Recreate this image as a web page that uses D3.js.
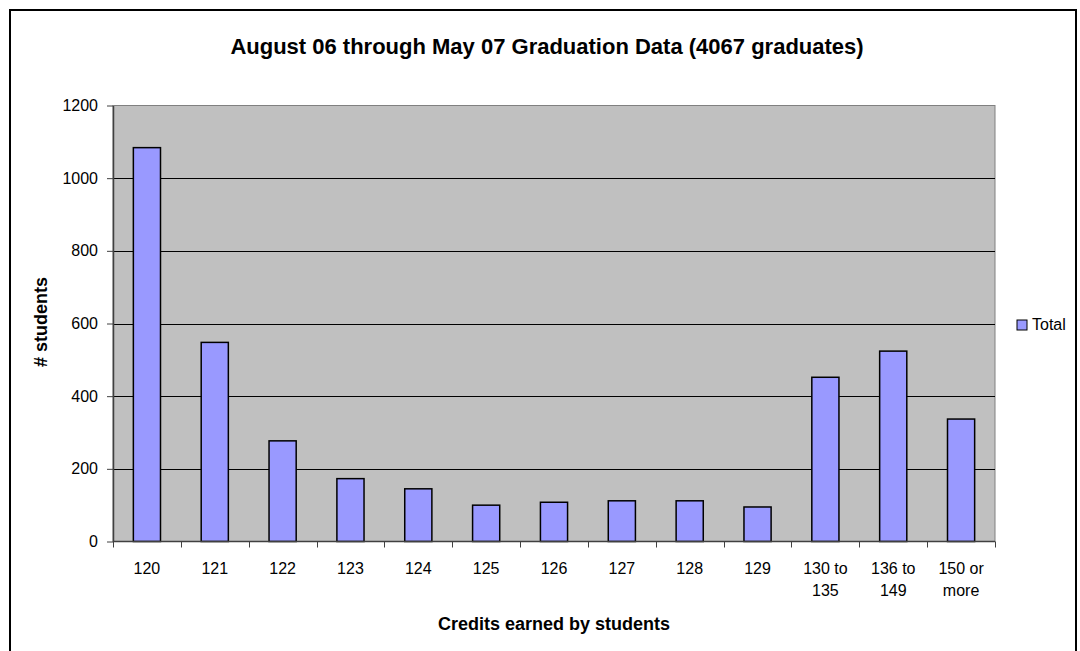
<!DOCTYPE html>
<html>
<head>
<meta charset="utf-8">
<script src="https://cdn.jsdelivr.net/npm/d3@7"></script>
<style>
  body { margin: 0; background: #fff; }
  svg { display: block; font-family: "Liberation Sans", Arial, sans-serif; }
</style>
</head>
<body>
<svg id="vis"></svg>
<script>
const categories = ["120", "121", "122", "123", "124", "125", "126", "127", "128", "129", "130 to 135", "136 to 149", "150 or more"];
const totals = [1084, 548, 277, 173, 145, 100, 108, 112, 112, 95, 452, 524, 337];
const yTicks = [0, 200, 400, 600, 800, 1000, 1200];
const seriesName = "Total";

const width = 1080, height = 651;
const plot = { left: 113, right: 995, top: 105.5, bottom: 541.5 };

const svg = d3.select("#vis")
  .attr("width", width)
  .attr("height", height);

// outer chart border
svg.append("rect")
  .attr("x", 10).attr("y", 10)
  .attr("width", 1066).attr("height", 660)
  .attr("fill", "#fff")
  .attr("stroke", "#000")
  .attr("stroke-width", 2);

const x = d3.scaleBand()
  .domain(categories)
  .range([plot.left, plot.right])
  .paddingInner(0.6)
  .paddingOuter(0.3);

const y = d3.scaleLinear()
  .domain([0, 1200])
  .range([plot.bottom, plot.top]);

// plot area
svg.append("rect")
  .attr("x", plot.left).attr("y", plot.top)
  .attr("width", plot.right - plot.left)
  .attr("height", plot.bottom - plot.top)
  .attr("fill", "#c0c0c0")
  .attr("stroke", "#808080")
  .attr("stroke-width", 1);

// gridlines
svg.append("g")
  .selectAll("line")
  .data(yTicks.filter(d => d > 0 && d < 1200))
  .enter()
  .append("line")
  .attr("x1", plot.left).attr("x2", plot.right)
  .attr("y1", d => Math.round(y(d)) + 0.5)
  .attr("y2", d => Math.round(y(d)) + 0.5)
  .attr("stroke", "#000")
  .attr("stroke-width", 1);

// bars
svg.append("g")
  .selectAll("rect")
  .data(categories.map((c, i) => ({ cat: c, value: totals[i] })))
  .enter()
  .append("rect")
  .attr("x", d => x(d.cat))
  .attr("y", d => y(d.value))
  .attr("width", x.bandwidth())
  .attr("height", d => y(0) - y(d.value))
  .attr("fill", "#9999ff")
  .attr("stroke", "#000")
  .attr("stroke-width", 1.5);

// y axis
const yAxis = svg.append("g")
  .attr("transform", `translate(${plot.left},0)`)
  .call(d3.axisLeft(y).tickValues(yTicks).tickFormat(d3.format("d"))
    .tickSize(6).tickSizeOuter(0).tickPadding(9));
yAxis.select(".domain").attr("stroke", "#404040").attr("stroke-width", 1.5);
yAxis.selectAll(".tick line").attr("stroke", "#404040");
yAxis.selectAll("text")
  .attr("font-size", 16)
  .attr("fill", "#000")
  .attr("font-family", "Liberation Sans, Arial, sans-serif");

// x axis: ticks at category boundaries
const step = x.step();
const bounds = categories.map(c => x(c) - step * x.paddingOuter()).concat([plot.right]);
const xAxis = svg.append("g");
xAxis.append("line")
  .attr("x1", plot.left).attr("x2", plot.right)
  .attr("y1", plot.bottom).attr("y2", plot.bottom)
  .attr("stroke", "#404040").attr("stroke-width", 1.5);
xAxis.selectAll("line.tk")
  .data(bounds)
  .enter()
  .append("line")
  .attr("class", "tk")
  .attr("x1", d => Math.round(d) + 0.5).attr("x2", d => Math.round(d) + 0.5)
  .attr("y1", plot.bottom).attr("y2", plot.bottom + 6)
  .attr("stroke", "#404040");

// x labels (wrapped in two lines when needed)
const labelGroups = xAxis.selectAll("text.lbl")
  .data(categories)
  .enter()
  .append("text")
  .attr("class", "lbl")
  .attr("text-anchor", "middle")
  .attr("font-size", 16)
  .attr("fill", "#000");
labelGroups.each(function(c) {
  const words = c.split(" ");
  const lines = words.length > 2 ? [words.slice(0, 2).join(" "), words.slice(2).join(" ")] : [c];
  const t = d3.select(this);
  lines.forEach((ln, i) => {
    t.append("tspan")
      .attr("x", x(c) + x.bandwidth() / 2)
      .attr("y", 574 + i * 22)
      .text(ln);
  });
});

// titles
svg.append("text")
  .attr("x", 547).attr("y", 54)
  .attr("text-anchor", "middle")
  .attr("font-size", 22)
  .attr("font-weight", "bold")
  .text("August 06 through May 07 Graduation Data (4067 graduates)");

svg.append("text")
  .attr("x", 554).attr("y", 630)
  .attr("text-anchor", "middle")
  .attr("font-size", 18)
  .attr("font-weight", "bold")
  .text("Credits earned by students");

svg.append("text")
  .attr("transform", "translate(47,322) rotate(-90)")
  .attr("text-anchor", "middle")
  .attr("font-size", 18)
  .attr("font-weight", "bold")
  .text("# students");

// legend
const legend = svg.append("g").attr("transform", "translate(1017,320)");
legend.append("rect")
  .attr("width", 10).attr("height", 10)
  .attr("fill", "#9999ff")
  .attr("stroke", "#000")
  .attr("stroke-width", 1);
legend.append("text")
  .attr("x", 15).attr("y", 9.5)
  .attr("font-size", 16)
  .text(seriesName);
</script>
</body>
</html>
